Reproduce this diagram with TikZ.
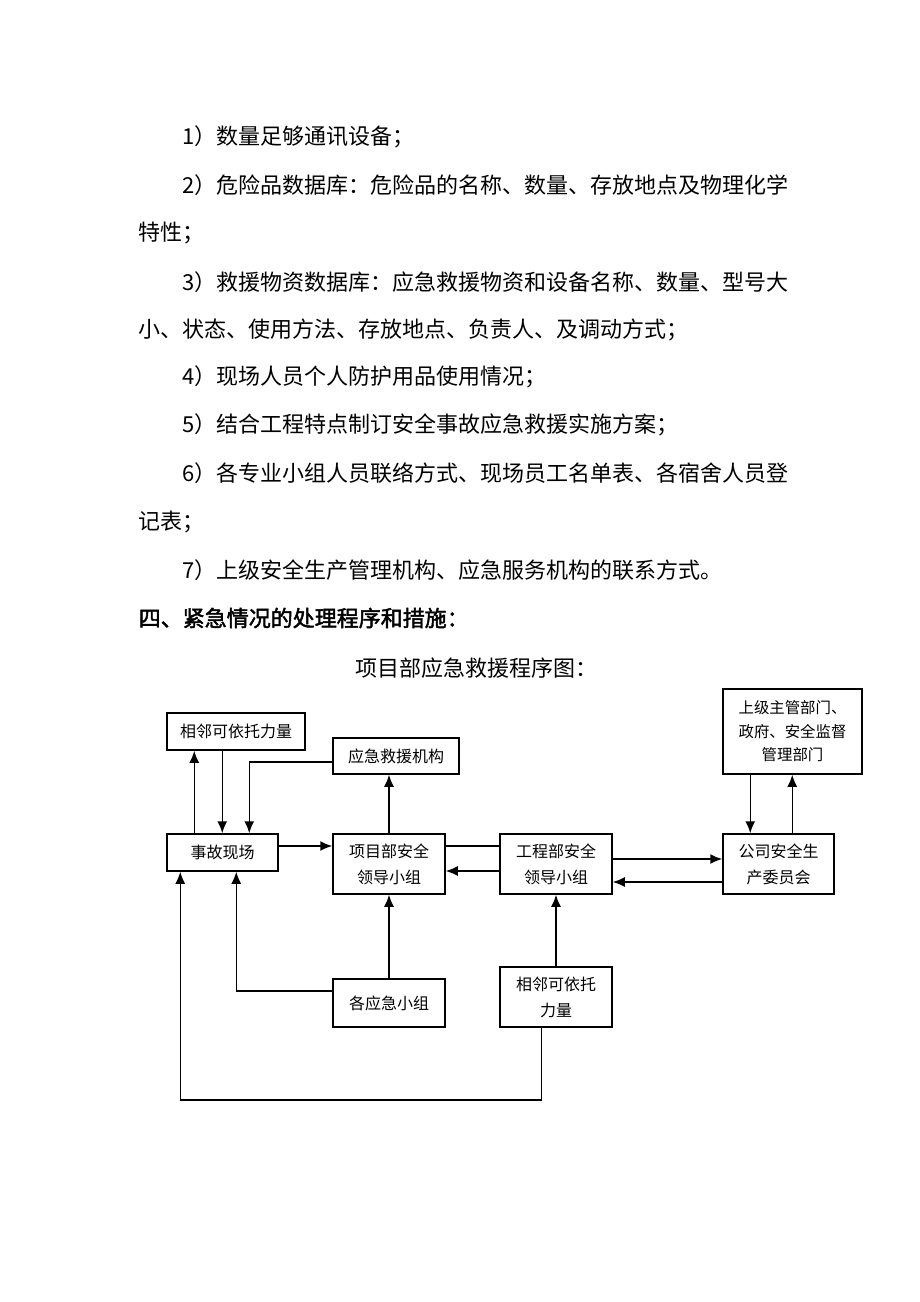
\documentclass[tikz,border=0pt]{standalone}
\usepackage{fontspec}
\setmainfont{Noto Sans CJK SC}
\newfontfamily\cjkbold[FakeBold=2]{Noto Sans CJK SC}
\usetikzlibrary{arrows.meta}

\begin{document}
\begin{tikzpicture}[>={Latex[length=6pt,width=5pt]}, x=0.5pt, y=-0.5pt, line width=0.75pt,
  box/.style={draw, inner sep=0pt, align=center, font=\fontsize{8}{13}\selectfont},
  para/.style={anchor=west, inner sep=0pt, font=\fontsize{11}{13}\selectfont}]

\useasboundingbox (0,0) rectangle (920,1302);

% text above the chart
\node[para] (l1) at (182,137) {1）数量足够通讯设备；};
\node[para] (l2) at (182,185) {2）危险品数据库：危险品的名称、数量、存放地点及物理化学};
\node[para] (l3) at (138,233) {特性；};
\node[para] (l4) at (182,282) {3）救援物资数据库：应急救援物资和设备名称、数量、型号大};
\node[para] (l5) at (138,330) {小、状态、使用方法、存放地点、负责人、及调动方式；};
\node[para] (l6) at (182,377) {4）现场人员个人防护用品使用情况；};
\node[para] (l7) at (182,425) {5）结合工程特点制订安全事故应急救援实施方案；};
\node[para] (l8) at (182,473) {6）各专业小组人员联络方式、现场员工名单表、各宿舍人员登};
\node[para] (l9) at (138,522) {记表；};
\node[para] (l10) at (182,570) {7）上级安全生产管理机构、应急服务机构的联系方式。};
\node[para, font=\fontsize{11}{13}\cjkbold] (head) at (138,618) {四、紧急情况的处理程序和措施：};
\node[para, anchor=center] (title) at (476,668) {项目部应急救援程序图：};

% boxes
\node[box, minimum width=69pt, minimum height=18.5pt] (nearTop) at (236,731.5) {相邻可依托力量};
\node[box, minimum width=63pt, minimum height=18pt] (rescue) at (396,756) {应急救援机构};
\node[box, minimum width=55.5pt, minimum height=18.5pt] (scene) at (222.5,852.5) {事故现场};
\node[box, minimum width=56pt, minimum height=30pt] (projLead) at (389,864) {项目部安全\\领导小组};
\node[box, minimum width=56pt, minimum height=30pt] (engLead) at (556,864) {工程部安全\\领导小组};
\node[box, minimum width=55.5pt, minimum height=30pt] (company) at (778.5,864) {公司安全生\\产委员会};
\node[box, minimum width=69.5pt, minimum height=42.5pt, font=\fontsize{7.7}{11.8}\selectfont] (superior) at (792.5,731.5) {上级主管部门、\\政府、安全监督\\管理部门};
\node[box, minimum width=56pt, minimum height=24pt] (groups) at (389,1003) {各应急小组};
\node[box, minimum width=56pt, minimum height=30pt] (nearBot) at (556,997) {相邻可依托\\力量};

% connectors
\draw[->] ([xshift=14pt]scene.north west) -- ([xshift=14pt]scene.north west |- nearTop.south);
\draw[->] ([xshift=28pt]nearTop.south west) -- ([xshift=28pt]nearTop.south west |- scene.north);
\draw[->] ([yshift=-3pt]rescue.west) -| ([xshift=41.5pt]scene.north west);
\draw[->] ([yshift=3.25pt]scene.east) -- ([yshift=3.25pt]scene.east -| projLead.west);
\draw[->] (projLead.north) -- (projLead.north |- rescue.south);
\draw ([yshift=9pt]engLead.west) -- ([yshift=9pt]engLead.west -| projLead.east);
\draw[->] ([yshift=-3.5pt]engLead.west) -- ([yshift=-3.5pt]engLead.west -| projLead.east);
\draw[->] ([yshift=2.5pt]engLead.east) -- ([yshift=2.5pt]engLead.east -| company.west);
\draw[->] ([yshift=-9pt]company.west) -- ([yshift=-9pt]company.west -| engLead.east);
\draw[->] ([xshift=14pt]superior.south west) -- ([xshift=14pt]superior.south west |- company.north);
\draw[->] ([xshift=35pt]company.north west) -- ([xshift=35pt]company.north west |- superior.south);
\draw[->] (groups.north) -- (groups.north |- projLead.south);
\draw[->] ([yshift=6pt]groups.west) -| ([xshift=35pt]scene.south west);
\draw[->] (nearBot.north) -- (engLead.south);
\draw[->] ([xshift=21pt]nearBot.south west) -- ++(0,72) -| ([xshift=7pt]scene.south west);

\end{tikzpicture}
\end{document}
